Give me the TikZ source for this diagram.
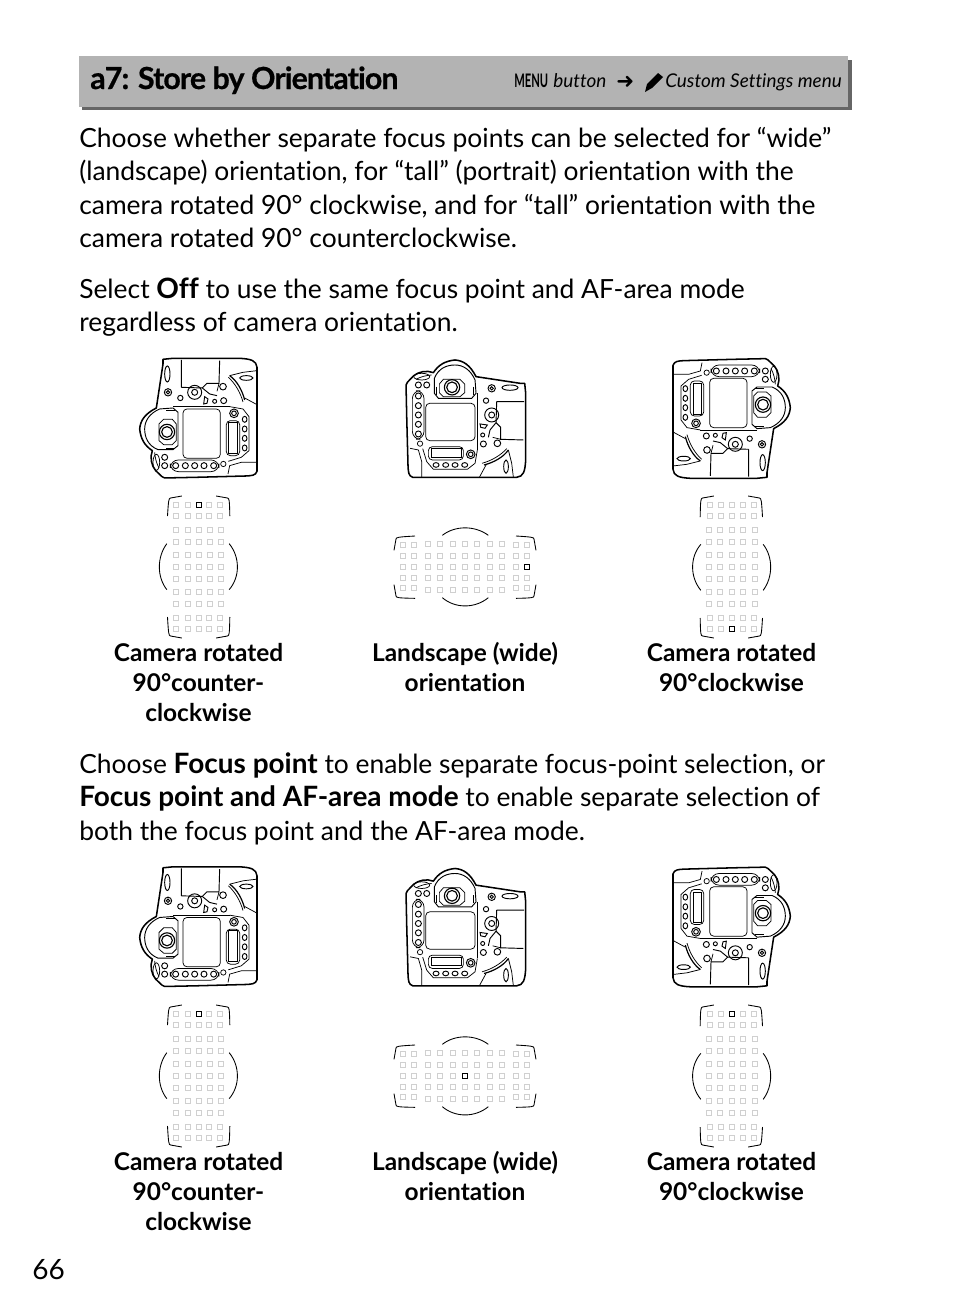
\documentclass[tikz,border=0pt]{standalone}
\usepackage{fontspec}
\setmainfont{Lato}[Ligatures=CommonOff,BoldFeatures={Scale=1.06}]
\newfontfamily\symbolfont{DejaVu Sans}
\definecolor{headgray}{HTML}{B3B3B3}
\definecolor{shadowgray}{HTML}{666666}
\definecolor{pointgray}{HTML}{D0D0D0}
\tikzset{
	bodytext/.style={anchor=base west, inner sep=0pt, font=\fontsize{19.8}{24}\selectfont},
	captext/.style={anchor=base, inner sep=0pt, font=\fontsize{17.3}{22}\selectfont\bfseries},
	thinpart/.style={line width=0.55pt},
	midpart/.style={line width=0.7pt},
	framemark/.style={line width=0.65pt},
}
% body of the camera, typed in a 3x grid around (257,205)
\newcommand\camerabody[3]{
	\begin{scope}[shift={(#1,#2)},rotate=#3,scale=0.3333,shift={(-257,-205)}]
		\draw[line width=1.15pt,line join=round] (98,382) .. controls (85,378) and (85,365) .. (84,350) -- (80,200) -- (78,105) -- (82,97)
			-- (100,78) .. controls (115,65) and (140,60) .. (160,68) .. controls (175,45) and (195,33) .. (225,30)
			.. controls (250,32) and (270,45) .. (288,80) -- (420,100) -- (434,100) -- (437,130) -- (437,330)
			.. controls (435,365) and (430,380) .. (410,382) -- cycle;
		% eyecup
		\draw[midpart] (163,130) -- (163,85) .. controls (175,55) and (200,45) .. (225,45)
			.. controls (250,45) and (272,60) .. (285,90) -- (288,130) -- (275,145) -- (175,145) -- cycle;
		\draw[thinpart] (190,88) -- (240,88) -- (254,102) -- (254,128) -- (240,140) -- (190,140) -- (178,128) -- (178,102) -- cycle;
		\draw[line width=0.85pt] (216,112) circle (23) (216,112) circle (16);
		\draw[thinpart] (168,110) -- (168,135) (281,110) -- (281,135);
		\draw[thinpart] (125,80) ellipse (24 and 10);
		\draw[thinpart] (108,88) .. controls (122,80) and (140,76) .. (155,75);
		\draw[midpart] (115,105) circle (9) (140,105) circle (9);
		% screens
		\draw[thinpart,rounded corners=3] (137,160) rectangle (285,272);
		\draw[thinpart,rounded corners=3] (145,290) rectangle (250,330);
		\draw[midpart] (153,296) rectangle (245,322);
		% buttons
		\draw[thinpart,rounded corners=6] (97,122) rectangle (132,268);
		\foreach \y in {138,167,195,223,252}
			\draw[midpart] (115,\y) circle (9);
		\draw[thinpart] (120,281) circle (8);
		\foreach \x in {168,197,225,254}
			\draw[midpart] (\x,345) ellipse (9 and 7);
		\draw[midpart] (272,313) circle (13) (272,313) circle (7);
		\draw[midpart] (335,115) circle (11) (335,115) circle (5);
		\draw[midpart] (390,113) ellipse (24 and 8);
		\draw[midpart] (318,152) circle (8);
		\draw[midpart] (335,195) circle (21) (335,195) circle (9);
		\draw[midpart] (300,222) -- (322,225) -- (315,235) -- (302,232) -- cycle;
		\draw[midpart] (308,255) circle (6) (310,282) circle (9) (352,280) circle (10);
		\draw[midpart] (378,350) ellipse (7 and 20);
		% grip and lower edge
		\draw[midpart] (350,155) -- (432,155) (350,155) -- (348,218) -- (330,240) -- (325,262);
		\draw[midpart] (348,218) -- (362,232) -- (362,268) -- (430,270);
		\draw[thinpart] (338,262) -- (362,268);
		\draw[line width=0.9pt] (312,345) .. controls (340,338) and (370,322) .. (385,300);
		\draw[thinpart] (306,340) .. controls (335,332) and (362,316) .. (380,296);
		\draw[thinpart] (318,345) -- (298,382) (385,300) -- (395,340) -- (400,382);
		\draw[thinpart] (90,295) -- (115,300) -- (125,335) -- (125,381);
		\draw[thinpart] (128,296) -- (140,335) -- (160,358) -- (262,358) -- (285,340) -- (292,300);
		\draw[thinpart] (292,130) -- (292,300);
	\end{scope}
}
% focus points, typed in a 3x grid around (255,650); #4,#5 = the chosen point
\newcommand\afgrid[5]{
	\begin{scope}[shift={(#1,#2)},rotate=#3,scale=0.3333,shift={(-255,-650)}]
		\foreach \px in {68,101,407,442}
			\foreach \py in {583,617,650,682,714}
				\draw[pointgray,line width=0.6pt] (\px-7.5,\py-7.5) rectangle (\px+7.5,\py+7.5);
		\foreach \px in {143,179,218,254,291,330,367}
			\foreach \py in {581,617,650,684,718}
				\draw[pointgray,line width=0.6pt] (\px-7.5,\py-7.5) rectangle (\px+7.5,\py+7.5);
		\draw[line width=0.6pt,fill=white] (#4-7.5,#5-7.5) rectangle (#4+7.5,#5+7.5);
		% frame marks
		\draw[framemark] (42,600) -- (48,566) .. controls (49,561) and (52,560) .. (105,557);
		\draw[framemark] (468,600) -- (462,566) .. controls (461,561) and (458,560) .. (408,557);
		\draw[framemark] (42,703) -- (48,737) .. controls (49,742) and (52,743) .. (105,744);
		\draw[framemark] (468,703) -- (462,737) .. controls (461,742) and (458,743) .. (408,744);
		\draw[framemark] (187,555) .. controls (225,525) and (285,525) .. (325,555);
		\draw[framemark] (187,742) .. controls (225,775) and (285,775) .. (325,742);
	\end{scope}
}
\newcommand\capblock[2]{
	\node[captext] (#1camccwa) at (198.5,#2) {Camera rotated};
	\node[captext] (#1camccwb) at (198.5,#2+30) {90°counter-};
	\node[captext] (#1camccwc) at (198.5,#2+60.5) {clockwise};
	\node[captext] (#1landa) at (465,#2) {Landscape (wide)};
	\node[captext] (#1landb) at (465,#2+30) {orientation};
	\node[captext] (#1camcwa) at (731.5,#2) {Camera rotated};
	\node[captext] (#1camcwb) at (731.5,#2+30) {90°clockwise};
}

\begin{document}
\begin{tikzpicture}[x=0.75pt, y=-0.75pt]
	\useasboundingbox (0,0) rectangle (954,1314);

	% Heading bar
	\fill[shadowgray] (82,60) rectangle (852,110);
	\fill[headgray] (79,56) rectangle (848,107);
	\node[anchor=base west, inner sep=0pt, font=\fontsize{21.5}{26}\selectfont\bfseries\addfontfeature{LetterSpace=-3,FakeBold=0.6}] (title) at (90,89) {a7: Store by Orientation};
	\node[anchor=base west, inner sep=0pt, font=\fontsize{13.2}{16}\selectfont\bfseries] (menukey) at (514,87) {\scalebox{0.6}[1]{MENU}};
	\node[anchor=base west, inner sep=0pt, font=\fontsize{14.2}{16}\selectfont\itshape] (menubtn) at (553,87) {button};
	\node[anchor=base west, inner sep=0pt, font=\fontsize{16}{16}\symbolfont] (menuarrow) at (616,88) {➜};
	\fill (645,92) -- (647,84) -- (658,73) -- (663,77) -- (652,88) -- cycle;
	\node[anchor=base west, inner sep=0pt, font=\fontsize{14.2}{16}\selectfont\itshape] (custom) at (665,87) {Custom Settings menu};

	% First text
	\node[bodytext] (para) at (79,147) {Choose whether separate focus points can be selected for “wide”};
	\node[bodytext] (parb) at (79,180) {(landscape) orientation, for “tall” (portrait) orientation with the};
	\node[bodytext] (parc) at (79,214) {camera rotated 90° clockwise, and for “tall” orientation with the};
	\node[bodytext] (pard) at (79,247) {camera rotated 90° counterclockwise.};
	\node[bodytext] (pare) at (79,298) {Select \textbf{Off} to use the same focus point and AF-area mode};
	\node[bodytext] (parf) at (79,331) {regardless of camera orientation.};

	% Cameras and focus points, first row
	\camerabody{198}{418.3}{90}
	\camerabody{465.7}{418.3}{0}
	\camerabody{732}{418.3}{-90}
	\afgrid{198.5}{567}{90}{442}{650}
	\afgrid{465}{567}{0}{442}{650}
	\afgrid{731.5}{567}{-90}{442}{650}
	\capblock{a}{661}

	% Second text
	\node[bodytext] (parg) at (79,773) {Choose \textbf{Focus point} to enable separate focus-point selection, or};
	\node[bodytext] (parh) at (79,806) {\textbf{Focus point and AF-area mode} to enable separate selection of};
	\node[bodytext] (pari) at (79,840) {both the focus point and the AF-area mode.};

	% Cameras and focus points, second row
	\camerabody{198}{926.8}{90}
	\camerabody{465.7}{926.8}{0}
	\camerabody{732}{926.8}{-90}
	\afgrid{198.5}{1076}{90}{442}{650}
	\afgrid{465}{1076}{0}{254}{650}
	\afgrid{731.5}{1076}{-90}{68}{650}
	\capblock{b}{1170}

	\node[anchor=base west, inner sep=0pt, font=\fontsize{21}{24}\selectfont] (pagenum) at (32,1279) {66};
\end{tikzpicture}
\end{document}
